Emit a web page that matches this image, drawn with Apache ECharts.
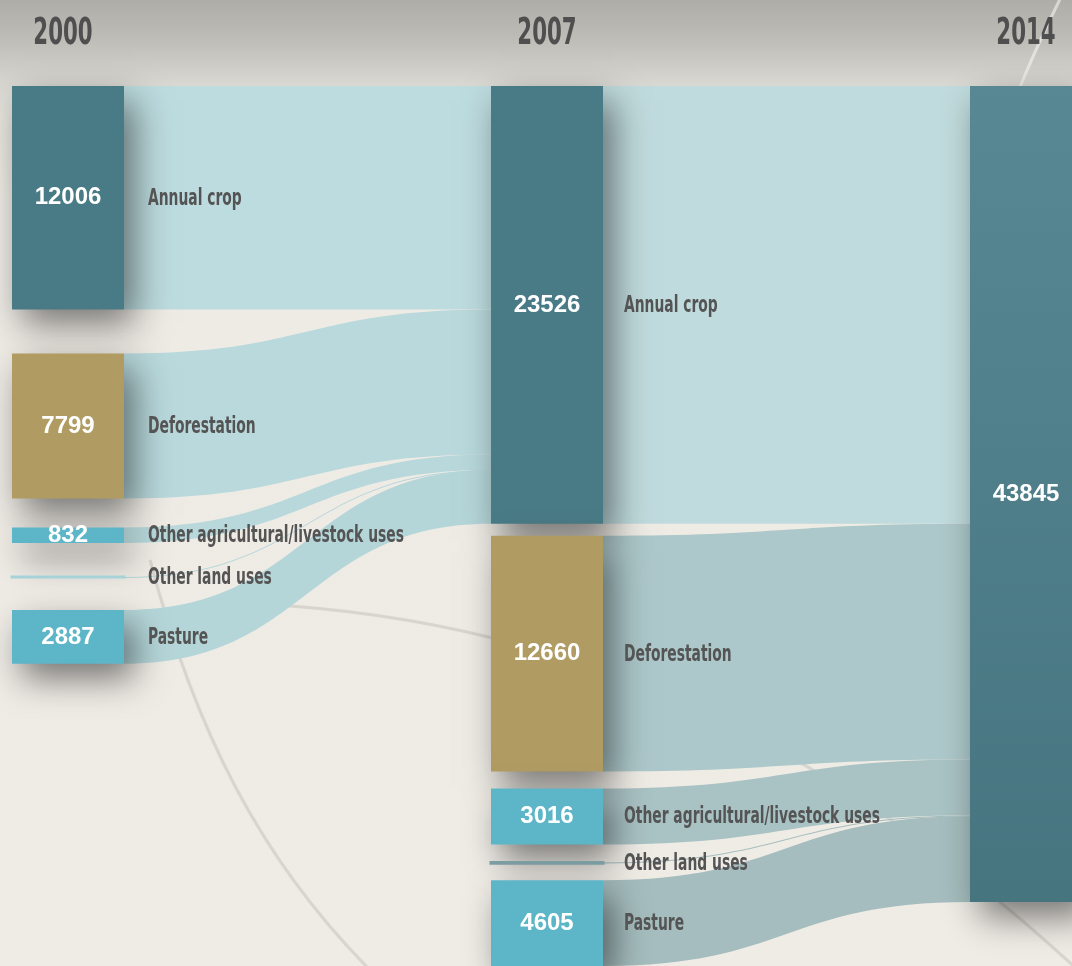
<!DOCTYPE html>
<html><head><meta charset="utf-8">
<script src="https://cdn.jsdelivr.net/npm/echarts@6/dist/echarts.min.js"></script>
<style>html,body{margin:0;padding:0;background:#efece6;overflow:hidden}#c{width:1072px;height:966px}</style>
</head><body><div id="c"></div>
<script>
// ---------- data ----------
const years = ['2000', '2007', '2014'];
const categories = ['Annual crop', 'Deforestation', 'Other agricultural/livestock uses', 'Other land uses', 'Pasture'];
const values2000 = [12006, 7799, 832, 2, 2887];
const values2007 = [23526, 12660, 3016, 38, 4605];
const values2014 = [43845];
const showValue = [true, true, true, false, true];

// ---------- layout / style ----------
const LEFT = 12, TOP = 86, NODE_W = 112, H = 856, GAP = 10, W = 1070;
const gaps2000 = [44, 29, 34, 33];
const gaps2007 = [12, 17, 18, 17];
const labelPad = [24, 21];
const nodeColors = ['#497b86', '#b09c63', '#5db6c8', '#a3d0d6', '#5db6c8'];
const lineNodeColors = { '2000': '#a6d2d8', '2007': '#7c9ea2' };
const edgeColors2007 = ['#bddcdf', '#b9d9dc', '#b8d8db', '#b6d6d9', '#b5d6d9'];
const edgeColors2014 = ['#c0dbdd', '#adc8ca', '#a9c2c4', '#a4bcbe', '#a5bdbe'];
const NAME_FONT = '"DejaVu Sans Condensed","DejaVu Sans",sans-serif';
const VALUE_FONT = '"Liberation Sans",Arial,sans-serif';
const NAME_SCALE = 0.67;

const sum = a => a.reduce((s, v) => s + v, 0);
// same scale rule as the ECharts sankey layout (one column per year)
const ky = Math.min(
  (H - (values2000.length - 1) * GAP) / sum(values2000),
  (H - (values2007.length - 1) * GAP) / sum(values2007),
  (H - (values2014.length - 1) * GAP) / sum(values2014)
);
function stackY(values, gaps) {
  const out = []; let y = 0;
  values.forEach((v, i) => { out.push(y / H); y += v * ky + (gaps[i] || 0); });
  return out;
}
const y2000 = stackY(values2000, gaps2000);
const y2007 = stackY(values2007, gaps2007);
const colLeft = i => LEFT + i * (W - NODE_W) / 2;
const colCenter = i => colLeft(i) + NODE_W / 2;

const info = {};
const nodes = [];
const nameLabels = [];
function addNode(year, col, idx, value, localY) {
  const id = year + ' ' + categories[idx];
  info[id] = { value: value, show: showValue[idx] };
  const isLine = idx === 3;
  nodes.push({
    name: id,
    value: value,
    localY: localY,
    itemStyle: isLine
      ? { color: lineNodeColors[year], borderColor: lineNodeColors[year], borderWidth: 3, shadowBlur: 0, shadowColor: 'transparent', shadowOffsetX: 0, shadowOffsetY: 0 }
      : { color: nodeColors[idx] }
  });
  nameLabels.push({ text: categories[idx], x: colLeft(col) + NODE_W + labelPad[col], y: TOP + localY * H + value * ky / 2 });
}
categories.forEach((c, i) => addNode('2000', 0, i, values2000[i], y2000[i]));
categories.forEach((c, i) => addNode('2007', 1, i, values2007[i], y2007[i]));
info['2014 ' + categories[0]] = { value: values2014[0], show: true };
nodes.push({
  name: '2014 ' + categories[0], value: values2014[0], localY: 0,
  itemStyle: {
    color: { type: 'linear', x: 0, y: 0, x2: 0, y2: 1, colorStops: [{ offset: 0, color: '#588893' }, { offset: 1, color: '#467580' }] }
  }
});

const links = [];
categories.forEach((c, i) => links.push({
  source: '2000 ' + c, target: '2007 ' + categories[0], value: values2000[i],
  lineStyle: { color: edgeColors2007[i] }
}));
categories.forEach((c, i) => links.push({
  source: '2007 ' + c, target: '2014 ' + categories[0], value: values2007[i],
  lineStyle: { color: edgeColors2014[i] }
}));

const chart = echarts.init(document.getElementById('c'), null, { renderer: 'canvas' });

const arcStyle = { stroke: 'rgba(110,110,104,0.16)', lineWidth: 3, fill: null, shadowBlur: 3, shadowColor: 'rgba(0,0,0,0.12)' };

chart.setOption({
  backgroundColor: {
    type: 'linear', x: 0, y: 0, x2: 0, y2: 1,
    colorStops: [
      { offset: 0, color: '#aeada7' },
      { offset: 0.04, color: '#bdbcb6' },
      { offset: 0.085, color: '#d8d6d0' },
      { offset: 0.12, color: '#e8e5df' },
      { offset: 0.2, color: '#eeebe5' },
      { offset: 1, color: '#efece6' }
    ]
  },
  animation: false,
  graphic: {
    elements: [
      { type: 'bezierCurve', z: 0, silent: true,
        shape: { x1: 150, y1: 560, cpx1: 195, cpy1: 730, cpx2: 260, cpy2: 860, x2: 372, y2: 972 }, style: arcStyle },
      { type: 'bezierCurve', z: 0, silent: true,
        shape: { x1: 230, y1: 603, cpx1: 560, cpy1: 612, cpx2: 830, cpy2: 740, x2: 1080, y2: 972 }, style: arcStyle },
      { type: 'bezierCurve', z: 0, silent: true,
        shape: { x1: 1062, y1: -5, cpx1: 1045, cpy1: 30, cpx2: 1030, cpy2: 60, x2: 1015, y2: 100 },
        style: { stroke: 'rgba(250,250,248,0.55)', lineWidth: 3, fill: null } }
    ].concat(years.map((y, i) => ({
      type: 'text', z: 10, silent: true,
      x: colCenter(i) - (i === 0 ? 5 : 0), y: 34, scaleX: 0.64,
      style: {
        text: y, fill: '#4f4f4f',
        font: 'bold 37px ' + NAME_FONT,
        align: 'center', verticalAlign: 'middle',
        textAlign: 'center', textVerticalAlign: 'middle'
      }
    }))).concat(nameLabels.map(l => ({
      type: 'text', z: 10, silent: true,
      x: l.x, y: l.y + 1, scaleX: NAME_SCALE,
      style: {
        text: l.text, fill: '#545454',
        font: 'bold 23px ' + NAME_FONT,
        align: 'left', verticalAlign: 'middle',
        textAlign: 'left', textVerticalAlign: 'middle'
      }
    })))
  },
  series: [{
    type: 'sankey',
    left: LEFT, top: TOP, width: W, height: H,
    nodeWidth: NODE_W, nodeGap: GAP,
    layoutIterations: 0,
    nodeAlign: 'right',
    draggable: false,
    emphasis: { disabled: true },
    data: nodes,
    links: links,
    itemStyle: {
      borderWidth: 0,
      shadowBlur: 34, shadowColor: 'rgba(0,0,0,0.5)', shadowOffsetX: 10, shadowOffsetY: 15
    },
    lineStyle: { opacity: 1, curveness: 0.5 },
    label: {
      show: true,
      position: 'inside',
      distance: 0,
      formatter: function (p) {
        const d = info[p.name];
        return d.show ? '{v|' + d.value + '}' : '';
      },
      rich: {
        v: { color: '#ffffff', fontSize: 24, fontWeight: 'bold', fontFamily: VALUE_FONT }
      }
    }
  }]
});
</script>
</body></html>
